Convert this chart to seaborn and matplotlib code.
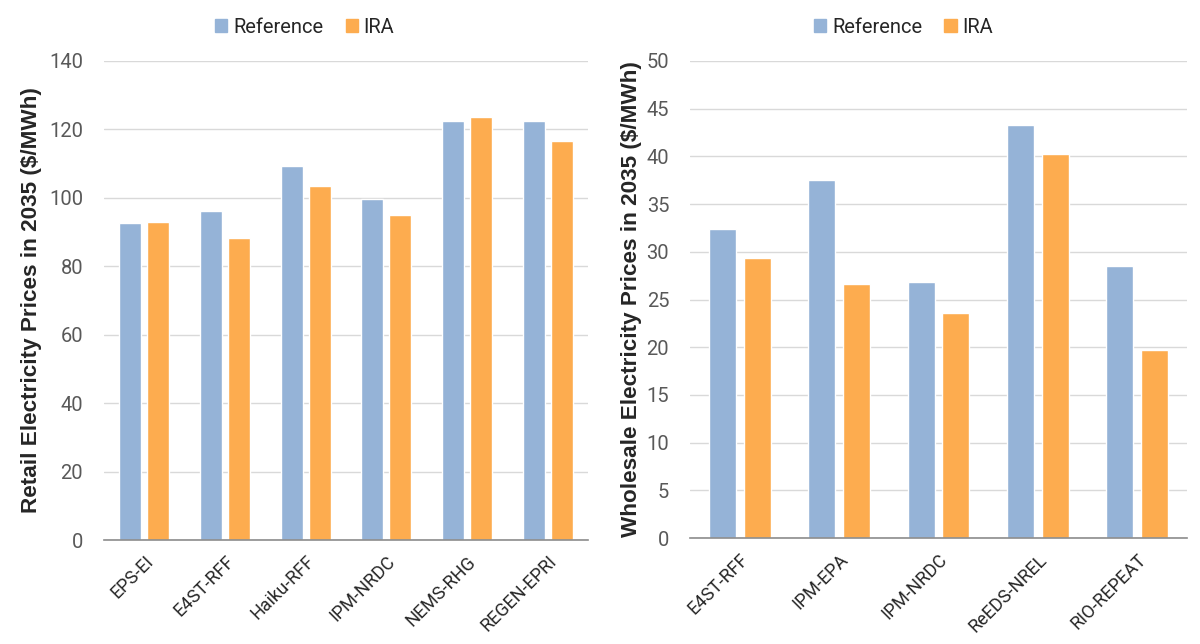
import pandas as pd
import matplotlib.pyplot as plt
import seaborn as sns

# ---- data ----
retail_models = ['EPS-EI', 'E4ST-RFF', 'Haiku-RFF', 'IPM-NRDC', 'NEMS-RHG', 'REGEN-EPRI']
retail_ref = [92.7, 96.1, 109.2, 99.6, 122.6, 122.4]
retail_ira = [93.0, 88.2, 103.6, 95.1, 123.5, 116.5]

wholesale_models = ['E4ST-RFF', 'IPM-EPA', 'IPM-NRDC', 'ReEDS-NREL', 'RIO-REPEAT']
wholesale_ref = [32.4, 37.5, 26.8, 43.3, 28.5]
wholesale_ira = [29.3, 26.6, 23.6, 40.2, 19.7]

scenarios = ['Reference', 'IRA']
colors = {'Reference': '#95B3D7', 'IRA': '#FDAC4F'}


def long_df(models, ref, ira):
    return pd.DataFrame({
        'model': models * 2,
        'scenario': ['Reference'] * len(models) + ['IRA'] * len(models),
        'value': ref + ira,
    })


sns.set_style('white')
plt.rcParams['font.family'] = ['Roboto', 'DejaVu Sans']

fig = plt.figure(figsize=(12, 6.44), dpi=100)
ax1 = fig.add_axes([104 / 1200, 104 / 644, 484 / 1200, 479 / 644])
ax2 = fig.add_axes([690 / 1200, 106 / 644, 497 / 1200, 477 / 644])

# (axes, data, categories, y label, y max, tick step, label x, legend x)
panels = [
    (ax1, long_df(retail_models, retail_ref, retail_ira), retail_models,
     'Retail Electricity Prices in 2035 ($/MWh)', 140, 20, -0.128, 0.415),
    (ax2, long_df(wholesale_models, wholesale_ref, wholesale_ira), wholesale_models,
     'Wholesale Electricity Prices in 2035 ($/MWh)', 50, 5, -0.097, 0.43),
]

for ax, df, models, ylabel, ymax, step, lab_x, leg_x in panels:
    sns.barplot(data=df, x='model', y='value', hue='scenario', order=models,
                hue_order=scenarios, palette=colors, width=0.7, gap=0.22,
                saturation=1, ax=ax, legend=False)
    ax.set_ylim(0, ymax)
    ax.set_yticks(range(0, ymax + 1, step))
    ax.set_xlim(-0.5, len(models) - 0.5)
    ax.grid(axis='y', color='#D9D9D9', linewidth=1)
    ax.set_axisbelow(True)
    for s in ['top', 'right', 'left']:
        ax.spines[s].set_visible(False)
    ax.spines['bottom'].set_color('#8C8C8C')
    ax.spines['bottom'].set_linewidth(1.2)
    ax.tick_params(axis='both', length=0)
    ax.tick_params(axis='y', labelsize=14.5, labelcolor='#595959', pad=15)
    ax.tick_params(axis='x', labelsize=13, labelcolor='#262626', pad=9)
    plt.setp(ax.get_xticklabels(), rotation=45, ha='right', rotation_mode='anchor')
    ax.set_xlabel('')
    ax.set_ylabel(ylabel, fontsize=16.2, fontweight='bold',
                  family=['Liberation Sans', 'DejaVu Sans'])
    ax.yaxis.set_label_coords(lab_x, 0.5)

    handles = [plt.Rectangle((0, 0), 1, 1, color=colors[s]) for s in scenarios]
    ax.legend(handles, scenarios, loc='lower center', bbox_to_anchor=(leg_x, 1.013),
              ncol=2, frameon=False, fontsize=14.5, handlelength=0.6,
              handleheight=0.6, handletextpad=0.3, columnspacing=1.1)

fig.savefig('out.png', dpi=100)
